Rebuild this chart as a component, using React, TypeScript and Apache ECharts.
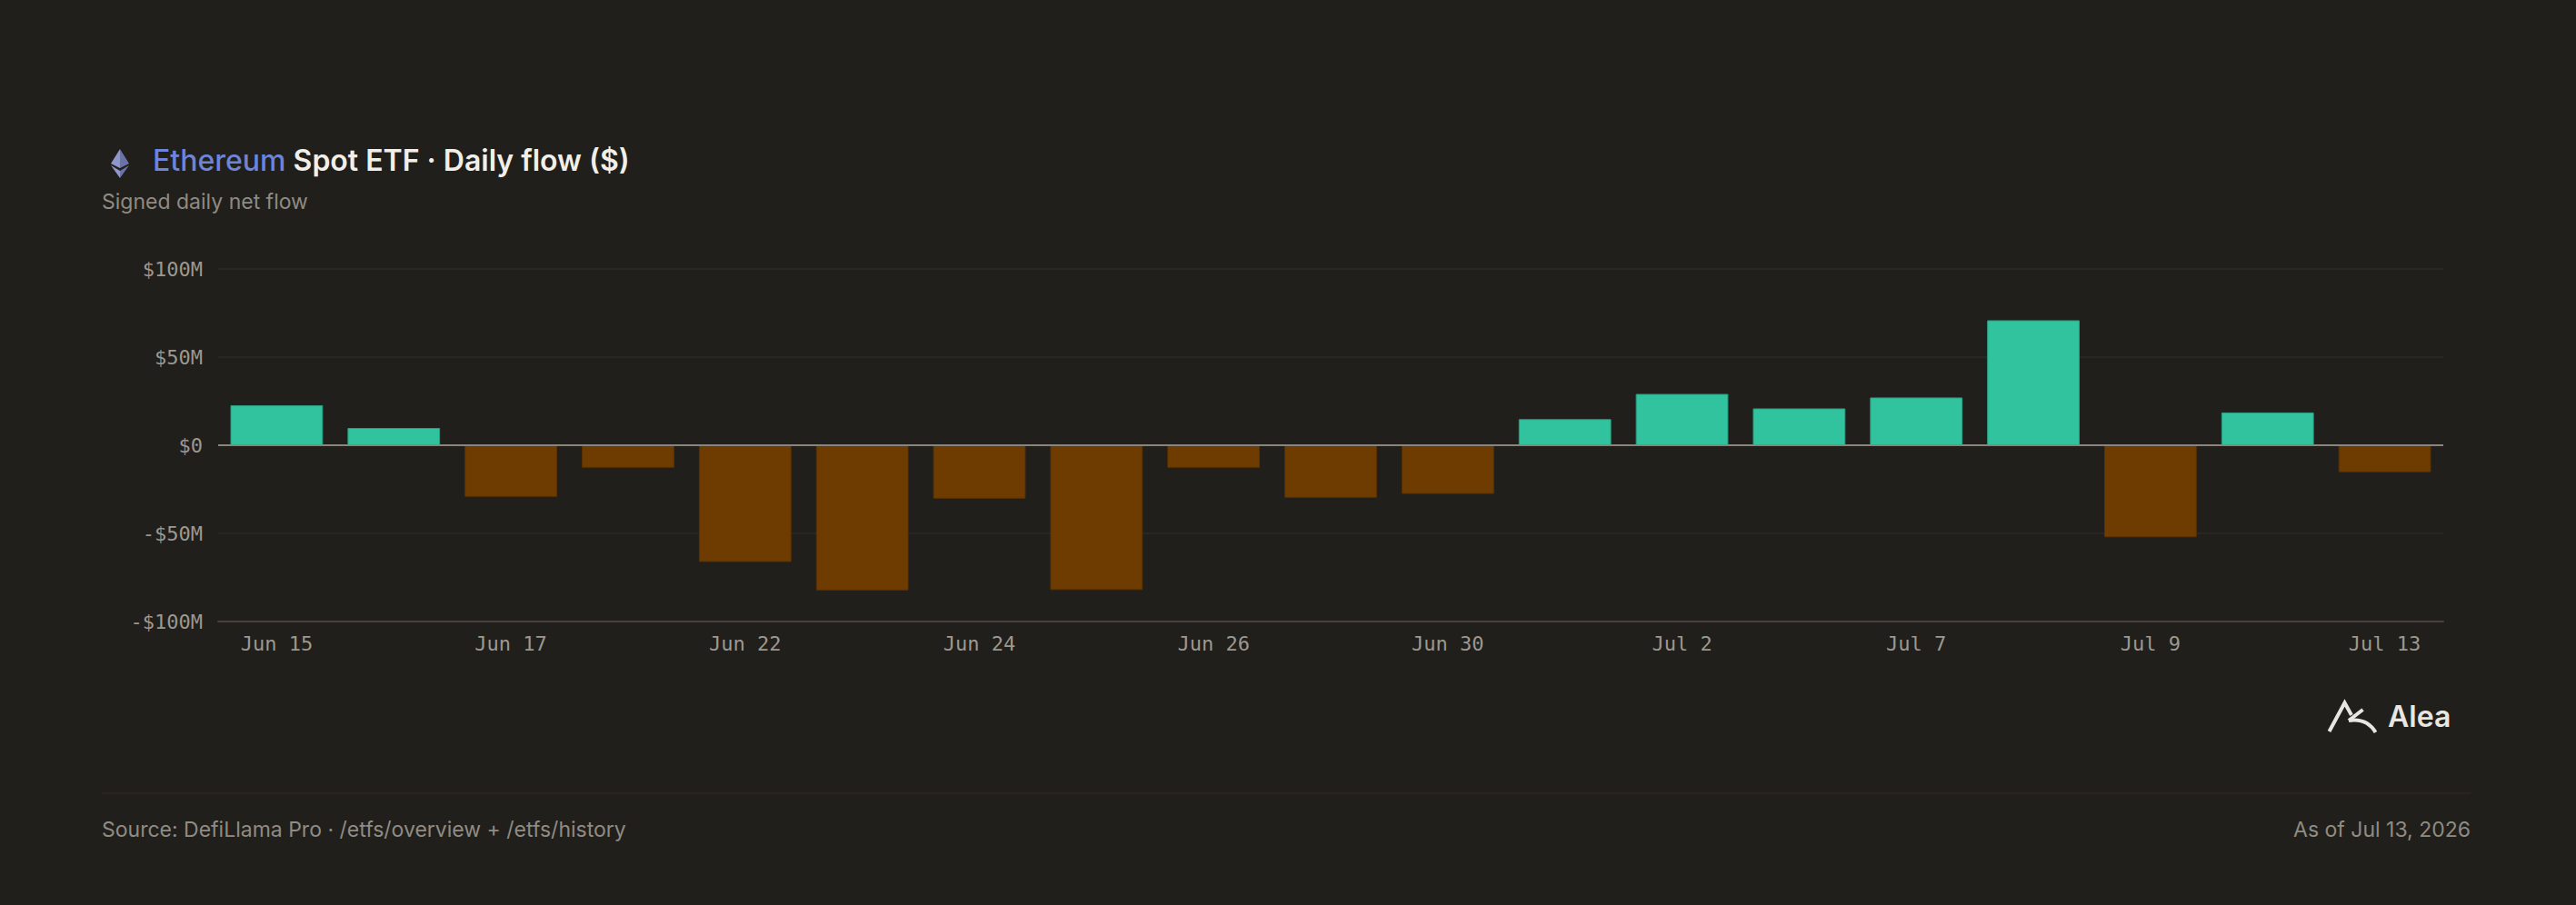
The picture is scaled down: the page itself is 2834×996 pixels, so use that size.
import React, { useEffect, useRef } from "react";
import * as echarts from "echarts";

const categories = [
  "Jun 15", "Jun 16", "Jun 17", "Jun 18", "Jun 22", "Jun 23", "Jun 24", "Jun 25",
  "Jun 26", "Jun 29", "Jun 30", "Jul 1", "Jul 2", "Jul 6", "Jul 7", "Jul 8",
  "Jul 9", "Jul 10", "Jul 13",
];
// daily net flow, $M
const flows = [
  22.7, 9.8, -29.3, -12.8, -66.2, -82.4, -30.3, -82.1,
  -12.8, -29.8, -27.6, 14.8, 29.1, 20.9, 27.1, 70.9,
  -52.2, 18.6, -15.3,
];
const yTicks = { min: -100, max: 100, step: 50 };

const titleBlue = "Ethereum";
const titleRest = "Spot ETF · Daily flow ($)";
const subtitle = "Signed daily net flow";
const source = "Source: DefiLlama Pro · /etfs/overview + /etfs/history";
const asOf = "As of Jul 13, 2026";
const brand = "Alea";

const BG = "#201f1b";
const UP = "#31c39e";
const DOWN = "#6e3c00";

function fmtY(v: number) {
  if (v === 0) return "$0";
  return v < 0 ? `-$${-v}M` : `$${v}M`;
}

export default function App() {
  const ref = useRef<HTMLDivElement>(null);
  useEffect(() => {
    if (!ref.current) return;
    const chart = echarts.init(ref.current, null, { renderer: "svg" });
    const sans = "Inter, 'Noto Sans', sans-serif";
    const mono = "'DejaVu Sans Mono', 'Liberation Mono', monospace";
    const markStyle = { stroke: "#e8e6e1", lineWidth: 4, fill: "none" };
    chart.setOption({
      animation: false,
      backgroundColor: BG,
      grid: { left: 240, right: 146, top: 296, bottom: 312, containLabel: false },
      xAxis: {
        type: "category",
        data: categories,
        axisLine: { onZero: false, lineStyle: { color: "#48413c", width: 2 } },
        axisTick: { show: false },
        axisLabel: {
          interval: 1,
          color: "#9d988f",
          fontFamily: mono,
          fontSize: 22,
          margin: 13,
        },
      },
      yAxis: {
        type: "value",
        min: yTicks.min,
        max: yTicks.max,
        interval: yTicks.step,
        axisLine: { show: false },
        axisTick: { show: false },
        axisLabel: {
          formatter: fmtY,
          color: "#9d988f",
          fontFamily: mono,
          fontSize: 22,
          margin: 17,
        },
        splitLine: { lineStyle: { color: "#2d2b27", width: 1.5 } },
      },
      series: [
        {
          type: "bar",
          data: flows.map((v) => ({
            value: v,
            itemStyle: {
              color: v >= 0 ? UP : DOWN,
              borderColor: v >= 0 ? "#2a9e82" : "#5a3203",
              borderWidth: 1,
            },
          })),
          barCategoryGap: "21%",
          markLine: {
            silent: true,
            symbol: "none",
            label: { show: false },
            lineStyle: { color: "#8b847a", width: 2, type: "solid" },
            data: [{ yAxis: 0 }],
            z: 5,
          },
        },
      ],
      graphic: [
        // ETH icon
        { type: "polygon", shape: { points: [[132, 164], [122, 180], [132, 185]] }, style: { fill: "#8f97c9" } },
        { type: "polygon", shape: { points: [[132, 164], [142, 180], [132, 185]] }, style: { fill: "#6a72a6" } },
        { type: "polygon", shape: { points: [[122, 182], [132, 196], [132, 188]] }, style: { fill: "#8f97c9" } },
        { type: "polygon", shape: { points: [[142, 182], [132, 196], [132, 188]] }, style: { fill: "#6a72a6" } },
        {
          type: "text",
          left: 168,
          top: 160,
          style: {
            text: `{a|${titleBlue}}{b|\u00a0${titleRest}}`,
            rich: {
              a: { fill: "#6d84d8", fontFamily: sans, fontSize: 32, fontWeight: 500 },
              b: { fill: "#f2efe8", fontFamily: sans, fontSize: 32, fontWeight: 600 },
            },
          },
        },
        {
          type: "text",
          left: 112,
          top: 210,
          style: { text: subtitle, fill: "#8f8a82", fontFamily: sans, fontSize: 23 },
        },
        // Alea brand mark
        {
          type: "polyline",
          shape: { points: [[2562.5, 805], [2579.5, 773.5], [2587, 787]] },
          style: { ...markStyle, lineJoin: "miter" },
        },
        {
          type: "polyline",
          shape: { points: [[2599.5, 781], [2584, 793]] },
          style: { ...markStyle },
        },
        {
          type: "bezierCurve",
          shape: { x1: 2584, y1: 793, cpx1: 2604, cpy1: 790, x2: 2613.5, y2: 806 },
          style: { ...markStyle },
        },
        {
          type: "text",
          left: 2627,
          top: 772,
          style: { text: brand, fill: "#e8e6e1", fontFamily: sans, fontSize: 32, fontWeight: 600 },
        },
        // footer
        {
          type: "line",
          shape: { x1: 112, y1: 873, x2: 2719, y2: 873 },
          style: { stroke: "#2b2925", lineWidth: 1.5 },
        },
        {
          type: "text",
          left: 112,
          top: 901,
          style: { text: source, fill: "#908b83", fontFamily: sans, fontSize: 23 },
        },
        {
          type: "text",
          right: 2834 - 2718,
          top: 901,
          style: { text: asOf, fill: "#908b83", fontFamily: sans, fontSize: 23 },
        },
      ],
    });
    return () => chart.dispose();
  }, []);
  return (
    <div
      ref={ref}
      style={{ position: "fixed", left: 0, top: 0, width: 2834, height: 996, background: BG }}
    />
  );
}
